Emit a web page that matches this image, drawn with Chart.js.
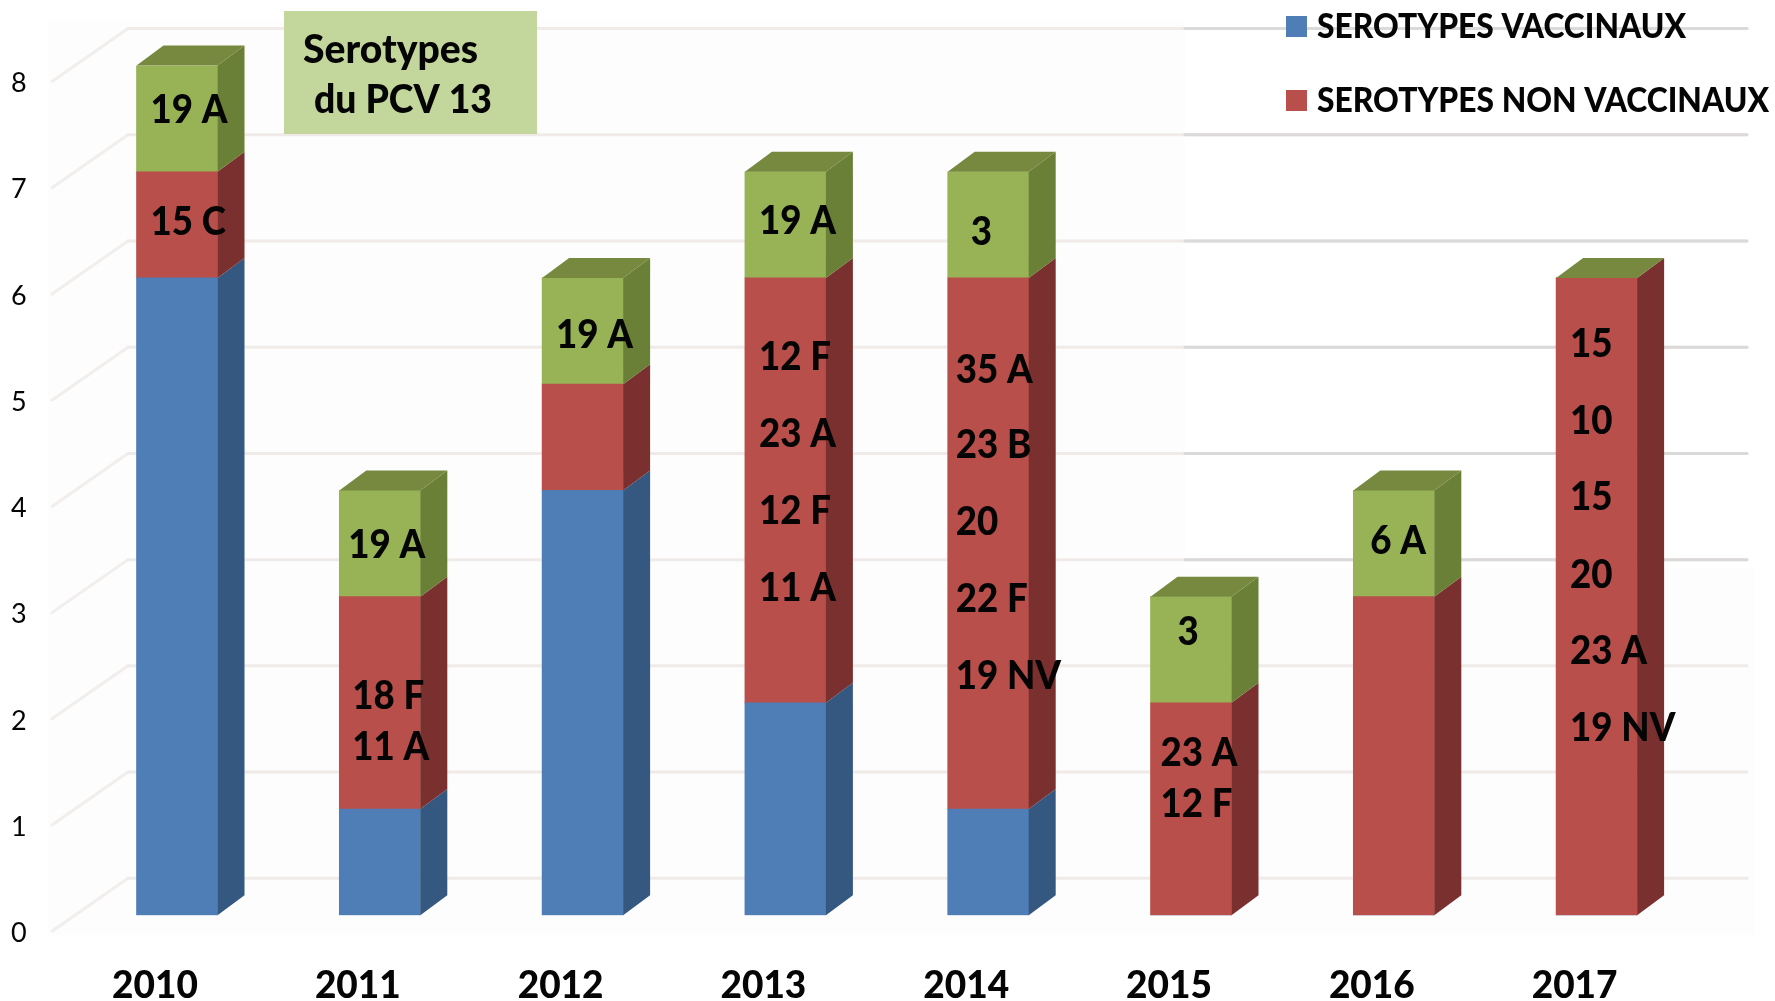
<!DOCTYPE html>
<html><head><meta charset="utf-8">
<style>html,body{margin:0;padding:0;background:#fff;overflow:hidden}canvas{display:block;width:1775px;height:1001px;filter:blur(0.6px)}</style>
<script src="https://cdn.jsdelivr.net/npm/chart.js@4/dist/chart.umd.js"></script>
</head><body><canvas id="c" width="1775" height="1001"></canvas>
<script>
const years = ['2010','2011','2012','2013','2014','2015','2016','2017'];
const yTicks = [0,1,2,3,4,5,6,7,8];
const vaccinaux = [6,1,4,2,1,0,0,0];
const nonVaccinaux = [1,2,1,4,5,2,3,6];
const pcv13 = [1,1,1,1,1,1,1,0];
const legendNames = ['SEROTYPES VACCINAUX','SEROTYPES NON VACCINAUX'];
const boxLines = ['Serotypes','du PCV 13'];
// serotype labels: year index, text, height on the value axis, x shift from the bar's left edge
const serotypeYear  = [0,0,1,1,1,2,3,3,3,3,3,4,4,4,4,4,4,5,5,5,6,7,7,7,7,7,7];
const serotypeText  = ['19 A','15 C','19 A','18 F','11 A','19 A','19 A','12 F','23 A','12 F','11 A','3','35 A','23 B','20','22 F','19 NV','3','23 A','12 F','6 A','15','10','15','20','23 A','19 NV'];
const serotypeValue = [7.59,6.53,3.49,2.07,1.59,5.47,6.54,5.26,4.54,3.81,3.09,6.44,5.14,4.43,3.71,2.98,2.26,2.67,1.53,1.05,3.53,5.38,4.66,3.94,3.21,2.49,1.77];
const serotypeShift = [14,14,9,13,13,14,14,14,14,14,14,23,8,8,8,8,8,27,10,10,17,14,14,14,14,14,14];

const C = {blue:'#4f7db5',blueS:'#34587f',red:'#b94f4b',redS:'#7a302e',green:'#97b356',greenS:'#6a8036',top:'#76893f',grid:'#dcd9d9',pale:'#f0ebe9',diag:'#f2eeec',ink:'#050505'};
const DX=27, DY=20, WALL=37, BACKX=128, FRONTX=52, GRIDEND=1747, SPLITX=1185, SPLITY=568;
const FONT='Lato';

const scene={id:'scene',
 beforeDraw(ch){
  const g=ch.ctx,y=ch.scales.y;
  g.save();
  g.fillStyle='#fdfdfd';
  g.fillRect(48,20,1137,915);
  g.fillRect(1185,SPLITY,570,367);
  g.lineCap='round';
  y.ticks.forEach(t=>{
   const p=y.getPixelForValue(t.value),b=p-WALL;
   g.strokeStyle=C.diag;g.lineWidth=3;
   g.beginPath();g.moveTo(BACKX,b);g.lineTo(FRONTX,p+16);g.stroke();
   g.strokeStyle=C.pale;g.lineWidth=3;
   g.beginPath();g.moveTo(BACKX,b);g.lineTo(GRIDEND,b);g.stroke();
   if(b<SPLITY){
    g.strokeStyle=C.grid;
    g.beginPath();g.moveTo(SPLITX,b);g.lineTo(GRIDEND,b);g.stroke();
   }
  });
  g.restore();
 },
 afterDatasetsDraw(ch){
  const g=ch.ctx,y=ch.scales.y;
  g.save();
  const sides=[C.blueS,C.redS,C.greenS];
  ch.data.datasets.forEach((d,di)=>{
   ch.getDatasetMeta(di).data.forEach((b,i)=>{
    if(!d.data[i])return;
    const r=b.x+b.width/2;
    g.fillStyle=sides[di];
    g.beginPath();g.moveTo(r,b.y);g.lineTo(r+DX,b.y-DY);g.lineTo(r+DX,b.base-DY);g.lineTo(r,b.base);g.closePath();g.fill();
   });
  });
  ch.getDatasetMeta(2).data.forEach(b=>{
   const l=b.x-b.width/2,r=b.x+b.width/2;
   g.fillStyle=C.top;
   g.beginPath();g.moveTo(l,b.y);g.lineTo(l+DX,b.y-DY);g.lineTo(r+DX,b.y-DY);g.lineTo(r,b.y);g.closePath();g.fill();
  });
  g.fillStyle=C.ink;g.font='900 39px '+FONT;g.textBaseline='middle';g.textAlign='left';
  const bars=ch.getDatasetMeta(0).data;
  serotypeText.forEach((s,k)=>{
   const b=bars[serotypeYear[k]];
   g.fillText(s,b.x-b.width/2+serotypeShift[k],y.getPixelForValue(serotypeValue[k])+1,g.measureText(s).width*0.94);
  });
  g.fillStyle='#c3d69b';g.fillRect(284,11,253,123);
  g.fillStyle=C.ink;g.font='900 40px '+FONT;
  g.fillText(boxLines[0],303,50,175);
  g.fillText(boxLines[1],314,100,178);
  g.fillStyle=C.blue;g.fillRect(1286,16,21,21);
  g.fillStyle=C.red;g.fillRect(1286,90,21,21);
  g.fillStyle=C.ink;g.font='900 34px '+FONT;
  g.fillText(legendNames[0],1317,27,369);
  g.fillText(legendNames[1],1317,101,452);
  g.restore();
 }};

new Chart(document.getElementById('c'),{
 type:'bar',
 data:{labels:years,datasets:[
  {label:legendNames[0],data:vaccinaux,backgroundColor:C.blue},
  {label:legendNames[1],data:nonVaccinaux,backgroundColor:C.red},
  {label:'Serotypes du PCV 13',data:pcv13,backgroundColor:C.green}
 ]},
 options:{responsive:false,animation:false,devicePixelRatio:1,
  layout:{padding:{top:65.5,right:77,left:0,bottom:0}},
  datasets:{bar:{barThickness:81,borderWidth:0}},
  plugins:{legend:{display:false},title:{display:false},tooltip:{enabled:false}},
  scales:{
   x:{stacked:true,grid:{display:false,drawTicks:false},border:{display:false},
      afterFit(s){s.height=85.7},
      ticks:{autoSkip:false,maxRotation:0,padding:49,labelOffset:-22,color:C.ink,font:{family:FONT,size:37,weight:'900'}}},
   y:{stacked:true,min:yTicks[0],max:yTicks[yTicks.length-1],grid:{display:false,drawTicks:false},border:{display:false},
      afterFit(s){s.width=75.6},
      afterBuildTicks(s){s.ticks=yTicks.map(v=>({value:v}))},
      ticks:{padding:49,labelOffset:18,color:C.ink,font:{family:FONT,size:27}}}
  }},
 plugins:[scene]
});
</script></body></html>
